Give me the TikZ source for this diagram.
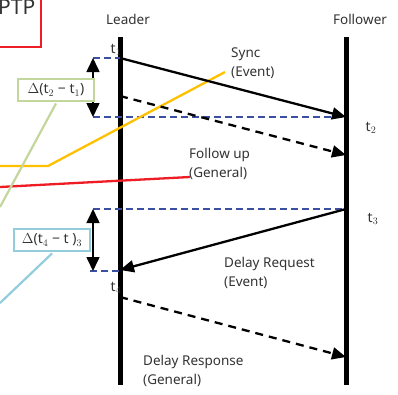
\documentclass[tikz,border=0pt]{standalone}
\usepackage{fontspec}
\setmainfont{Noto Sans}
\usetikzlibrary{arrows.meta}
\definecolor{dblue}{HTML}{3A4FA0}
\definecolor{lgreen}{HTML}{C3D69B}
\definecolor{lblue}{HTML}{92CDDC}
\definecolor{ylw}{HTML}{FFC000}
\definecolor{pred}{HTML}{EE1C25}
\begin{document}
\begin{tikzpicture}[x=1pt,y=-1pt,
  lbl/.style={font=\fontsize{13.5}{19}\selectfont,text=black!80,inner sep=0pt},
  tlbl/.style={font=\fontsize{14}{16}\selectfont,text=black!80,inner sep=0pt},
  lifeline/.style={line width=5pt},
  msg/.style={line width=2.3pt,-{Triangle[length=14pt,width=12pt]}},
  msgd/.style={msg,dash pattern=on 8pt off 6pt},
  bdash/.style={dblue,line width=2.4pt,dash pattern=on 7pt off 4pt},
  dbl/.style={line width=1.6pt,{Triangle[length=14pt,width=13pt]}-{Triangle[length=14pt,width=13pt]}},
  deltabox/.style={draw,line width=2.5pt,fill=white,inner sep=1pt,minimum height=22pt,font=\fontsize{14}{16}\selectfont,text=black!80}
]
\clip (0,0) rectangle (398,394);
\useasboundingbox (0,0) rectangle (398,394);
% PTP box
\draw[pred,line width=2.5pt] (-20,-20) rectangle (41,47);
\node[anchor=base west,inner sep=0pt,font=\fontsize{21}{23}\selectfont,text=black!80] (ptp) at (-2,14) {PTP};
% headers
\node[lbl,anchor=base] (leader) at (128,24) {Leader};
\node[lbl,anchor=base] (follower) at (360,24) {Follower};
% lifelines
\coordinate (Ltop) at (120,37); \coordinate (Lbot) at (120,385);
\coordinate (Ftop) at (346,37); \coordinate (Fbot) at (346,385);
\draw[lifeline] (Ltop) -- (Lbot);
\draw[lifeline] (Ftop) -- (Fbot);
% message points
\coordinate (s1) at (120,58);  \coordinate (s2) at (346,117);
\coordinate (f1) at (120,96);  \coordinate (f2) at (346,155);
\coordinate (r1) at (346,209); \coordinate (r2) at (120,270);
\coordinate (d1) at (120,297); \coordinate (d2) at (346,357);
% blue dashed reference lines
\coordinate (b1) at (93,58);  \coordinate (b2) at (93,117);
\coordinate (b3) at (93,209); \coordinate (b4) at (90,271);
\draw[bdash] (b1) -- (s1);
\draw[bdash] (b2) -- (s2);
\draw[bdash] (b3) -- (r1);
\draw[bdash] (b4) -- (120,271);
% colored pointer lines
\coordinate (y0) at (0,166); \coordinate (y1) at (48,166); \coordinate (y2) at (225,72);
\draw[ylw,line width=2.3pt] (y0) -- (y1) -- (y2);
\coordinate (rd0) at (0,187); \coordinate (rd1) at (190,177);
\draw[pred,line width=2.3pt] (rd0) -- (rd1);
% messages
\draw[msg] (s1) -- (s2);
\draw[msgd] (f1) -- (f2);
\draw[msg] (r1) -- (r2);
\draw[msgd] (d1) -- (d2);
% double arrows
\draw[dbl] (b1) -- (b2);
\draw[dbl] (b3) -- (b4 -| b3);
% delta boxes
\node[deltabox,draw=lgreen,minimum width=76pt] (dA) at (56,90) {$\Delta$(t$_2$ − t$_1$)};
\node[deltabox,draw=lblue,minimum width=76pt] (dB) at (52,240) {$\Delta$(t$_4$ − t )$_3$};
\coordinate (gA) at (0,207);
\coordinate (gB) at (0,303);
\draw[lgreen,line width=2.2pt] (dA.south) ++(0,1.2) coordinate (dAs) (dAs) -- (gA);
\draw[lblue,line width=2.2pt] (dB.south) ++(0,1.2) coordinate (dBs) (dBs) -- (gB);
% time labels
\node[tlbl] (t1) at (116,50) {t$_1$};
\node[tlbl] (t2) at (371,128) {t$_2$};
\node[tlbl] (t3) at (373,219) {t$_3$};
\node[tlbl] (t4) at (116,288) {t$_4$};
% message labels
\node[lbl,anchor=north west,align=left] (sync) at (231,48) {Sync\\(Event)};
\node[lbl,anchor=north west,align=left] (fup) at (189,148) {Follow up\\(General)};
\node[lbl,anchor=north west,align=left] (dreq) at (224,257) {Delay Request\\(Event)};
\node[lbl,anchor=north west,align=left] (dres) at (143,355) {Delay Response\\(General)};
\end{tikzpicture}
\end{document}
